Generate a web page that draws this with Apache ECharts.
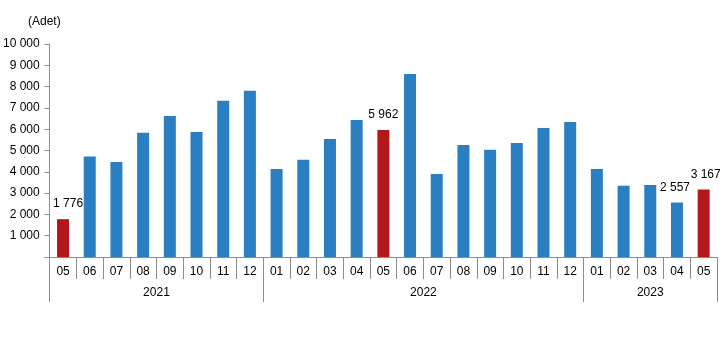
<!DOCTYPE html>
<html>
<head>
<meta charset="utf-8">
<script src="https://cdn.jsdelivr.net/npm/echarts@6/dist/echarts.min.js"></script>
<style>
  html, body { margin: 0; padding: 0; background: #fff; }
  #chart { width: 725px; height: 339px; }
</style>
</head>
<body>
<div id="chart"></div>
<script>
// Monthly counts, May 2021 – May 2023
const months = ['05','06','07','08','09','10','11','12',
                '01','02','03','04','05','06','07','08','09','10','11','12',
                '01','02','03','04','05'];
const years = ['2021', '2022', '2023'];
const monthsPerYear = [8, 12, 5];
const values = [1776, 4720, 4460, 5830, 6620, 5870, 7340, 7800,
                4130, 4560, 5540, 6430, 5962, 8590, 3900, 5260, 5030, 5350, 6060, 6340,
                4130, 3340, 3380, 2557, 3167];
const highlighted = [0, 12, 24];          // same month of each year
const labelled = [0, 12, 23, 24];         // bars carrying a value label
const yTicks = [0, 1000, 2000, 3000, 4000, 5000, 6000, 7000, 8000, 9000, 10000];

const BLUE = '#2a7fc3';
const RED = '#b3171b';
const AXIS = '#8c8c8c';
const FONT = 'Liberation Sans, Arial, sans-serif';

const fmt = v => String(v).replace(/\B(?=(\d{3})+(?!\d))/g, ' ');

// year group boundaries and centres, in category units
const bounds = [0];
monthsPerYear.forEach(n => bounds.push(bounds[bounds.length - 1] + n));
const centres = years.map((_, i) => (bounds[i] + bounds[i + 1]) / 2);

const labelOffsets = { 0: [5, 0], 12: [0, 0], 23: [-2, 0], 24: [2, 0] };

const data = values.map((v, i) => {
  const item = {
    value: v,
    itemStyle: { color: highlighted.includes(i) ? RED : BLUE }
  };
  if (labelled.includes(i)) {
    item.label = {
      show: true,
      position: 'top',
      distance: 9,
      offset: labelOffsets[i],
      formatter: p => fmt(p.value),
      fontSize: 12,
      color: '#000',
      fontFamily: FONT
    };
  }
  return item;
});

const chart = echarts.init(document.getElementById('chart'), null, { renderer: 'canvas' });
chart.setOption({
  animation: false,
  backgroundColor: '#fff',
  title: {
    text: '(Adet)',
    left: 23,
    top: 11,
    textStyle: { fontSize: 12, fontWeight: 'normal', color: '#000', fontFamily: FONT }
  },
  grid: { left: 48, right: 8, top: 44, bottom: 82, containLabel: false },
  xAxis: [
    {
      type: 'category',
      data: months,
      axisLine: { show: true, lineStyle: { color: AXIS, width: 1 } },
      axisTick: { show: true, interval: 0, length: 22, lineStyle: { color: AXIS } },
      axisLabel: { interval: 0, margin: 9, fontSize: 12, color: '#000', fontFamily: FONT },
      splitLine: { show: false }
    },
    {
      type: 'value',
      position: 'bottom',
      offset: 22,
      min: 0,
      max: bounds[bounds.length - 1],
      axisLine: { show: false },
      axisTick: { show: true, customValues: bounds, length: 23, lineStyle: { color: AXIS } },
      axisLabel: {
        show: true,
        customValues: centres,
        margin: 8,
        fontSize: 12,
        color: '#000',
        fontFamily: FONT,
        formatter: v => {
          const i = centres.findIndex(c => Math.abs(c - v) < 1e-6);
          return i >= 0 ? years[i] : '';
        }
      },
      splitLine: { show: false }
    }
  ],
  yAxis: {
    type: 'value',
    min: yTicks[0],
    max: yTicks[yTicks.length - 1],
    interval: yTicks[1] - yTicks[0],
    axisLine: { show: true, lineStyle: { color: AXIS, width: 1 } },
    axisTick: { show: true, length: 5, lineStyle: { color: AXIS } },
    axisLabel: {
      margin: 10,
      fontSize: 12,
      color: '#000',
      fontFamily: FONT,
      formatter: v => (v === 0 ? '' : fmt(v))
    },
    splitLine: { show: false }
  },
  series: [
    {
      type: 'bar',
      xAxisIndex: 0,
      barWidth: 12,
      data: data
    }
  ]
});
</script>
</body>
</html>
